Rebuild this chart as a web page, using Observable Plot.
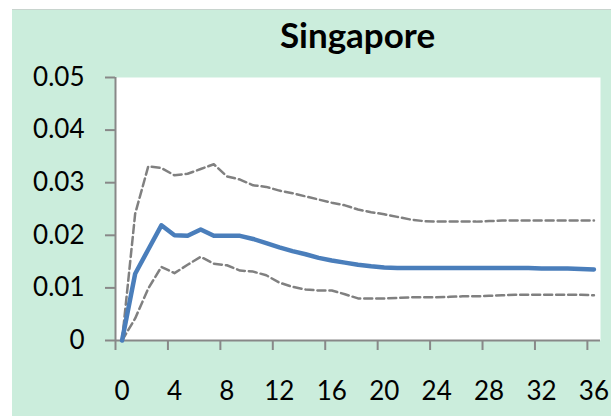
<!DOCTYPE html>
<html><head><meta charset="utf-8">
<script src="https://cdn.jsdelivr.net/npm/d3@7"></script>
<script src="https://cdn.jsdelivr.net/npm/@observablehq/plot@0.6"></script>
<style>
html,body{margin:0;padding:0;background:#fff;}
#wrap{position:relative;width:611px;height:416px;overflow:hidden;font-family:Lato,sans-serif;}
#bg{position:absolute;left:12px;top:9px;right:0;bottom:0;background:#cbeddc;border-top:1px solid #c8d4ce;}
#title{position:absolute;left:115px;width:485px;top:17px;text-align:center;font:bold 35px/35px Lato,sans-serif;color:#000;}
#chart{position:absolute;left:0;top:0;}
</style></head><body>
<div id="wrap"><div id="bg"></div><div id="chart"></div><div id="title">Singapore</div></div>
<script>
const periods = [0,1,2,3,4,5,6,7,8,9,10,11,12,13,14,15,16,17,18,19,20,21,22,23,24,25,26,27,28,29,30,31,32,33,34,35,36];
const estimate = [0,0.0127,0.0173,0.0219,0.0200,0.0199,0.0211,0.0199,0.0199,0.0199,0.0193,0.0185,0.0177,0.0170,0.0164,0.0157,0.0152,0.0148,0.0144,0.0141,0.0139,0.0138,0.0138,0.0138,0.0138,0.0138,0.0138,0.0138,0.0138,0.0138,0.0138,0.0138,0.0137,0.0137,0.0137,0.0136,0.0135];
const upper = [0,0.0241,0.0331,0.0328,0.0314,0.0317,0.0326,0.0335,0.0312,0.0306,0.0295,0.0292,0.0285,0.0280,0.0274,0.0268,0.0262,0.0257,0.0249,0.0244,0.0240,0.0235,0.0230,0.0227,0.0226,0.0226,0.0226,0.0226,0.0227,0.0228,0.0228,0.0228,0.0228,0.0228,0.0228,0.0228,0.0228];
const lower = [0,0.0042,0.0099,0.0140,0.0128,0.0144,0.0159,0.0146,0.0143,0.0133,0.0131,0.0124,0.0110,0.0102,0.0097,0.0095,0.0095,0.0088,0.0080,0.0080,0.0080,0.0081,0.0082,0.0082,0.0082,0.0083,0.0084,0.0084,0.0085,0.0086,0.0087,0.0087,0.0087,0.0087,0.0087,0.0087,0.0086];
const xLabels = [0,4,8,12,16,20,24,28,32,36];
const xTickMarks = [-0.5,3.5,7.5,11.5,15.5,19.5,23.5,27.5,31.5,35.5];
const xDomain = [-0.5,36.5];
const yTicks = [0,0.01,0.02,0.03,0.04,0.05];
const yTickLabels = ["0","0.01","0.02","0.03","0.04","0.05"];

const data = periods.map((p,i)=>({period:p, estimate:estimate[i], upper:upper[i], lower:lower[i]}));
const grey = "#888888";

const plot = Plot.plot({
  width:611, height:416,
  marginLeft:115, marginRight:11, marginTop:77, marginBottom:76,
  style:{background:"transparent", fontFamily:"Lato, sans-serif", fontSize:"26px", color:"#000", overflow:"visible"},
  x:{type:"linear", domain:xDomain},
  y:{domain:[yTicks[0], yTicks[yTicks.length-1]]},
  marks:[
    Plot.frame({fill:"white", stroke:"none"}),
    Plot.ruleX([xDomain[0]], {stroke:grey, strokeWidth:2}),
    Plot.ruleY([0], {stroke:grey, strokeWidth:2}),
    Plot.axisY({ticks:yTicks, tickSize:10, tickPadding:21, stroke:grey, strokeWidth:2, fontSize:26, label:null,
      tickFormat:d=>yTickLabels[yTicks.indexOf(d)]}),
    Plot.axisX({ticks:xTickMarks, tickSize:10, tickFormat:()=>"", stroke:grey, strokeWidth:2, label:null}),
    Plot.axisX({ticks:xLabels, tickSize:0, tickPadding:41, fontSize:26, label:null, tickFormat:d=>String(d)}),
    Plot.line(data, {x:"period", y:"upper", stroke:"#808080", strokeWidth:2.5, strokeDasharray:"8,4"}),
    Plot.line(data, {x:"period", y:"lower", stroke:"#808080", strokeWidth:2.5, strokeDasharray:"8,4"}),
    Plot.line(data, {x:"period", y:"estimate", stroke:"#4a7ebb", strokeWidth:4.5})
  ]
});
document.getElementById("chart").appendChild(plot);
</script>
</body></html>
